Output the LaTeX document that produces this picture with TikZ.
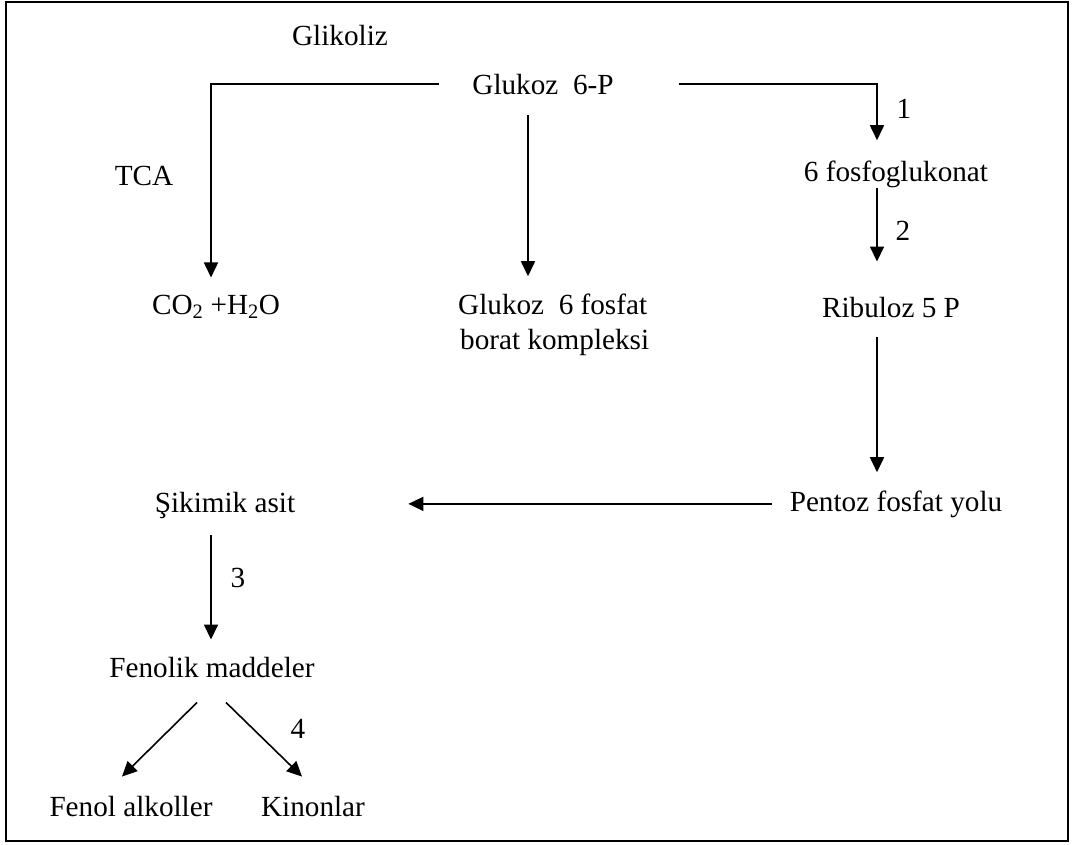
\documentclass[tikz,border=0pt]{standalone}
\usepackage{fontspec}
\setmainfont{Liberation Serif}
\usetikzlibrary{arrows.meta}
\begin{document}
\begin{tikzpicture}[x=1pt,y=-1pt,
  txt/.style={inner sep=0pt,anchor=base,font=\fontsize{29.2}{35}\selectfont},
  arr/.style={line width=1.6pt,-{Triangle[length=15pt,width=14pt]}}]
\useasboundingbox (0,0) rectangle (1074,844);
\draw[line width=2pt] (6,2) rectangle (1068,841);
% texts
\node[txt] (glik) at (340,45) {Glikoliz};
\node[txt] (g6p) at (543,94) {Glukoz\ \ 6-P};
\node[txt] (tca) at (144,185) {TCA};
\node[txt] (fos) at (896,181) {6 fosfoglukonat};
\node[txt] (co2) at (216,314) {CO\textsubscript{2} +H\textsubscript{2}O};
\node[txt,anchor=base west] (gfb1) at (458,314) {Glukoz\ \ 6 fosfat};
\node[txt,anchor=base west] (gfb2) at (460,349) {borat kompleksi};
\node[txt] (rib) at (891,317) {Ribuloz 5 P};
\node[txt] (sik) at (225,512) {Şikimik asit};
\node[txt] (pen) at (896,511) {Pentoz fosfat yolu};
\node[txt] (fen) at (212,677) {Fenolik maddeler};
\node[txt] (fa) at (131,816) {Fenol alkoller};
\node[txt] (kin) at (313,816) {Kinonlar};
% step numbers
\node[txt] (n1) at (904,118) {1};
\node[txt] (n2) at (903,240) {2};
\node[txt] (n3) at (238,587) {3};
\node[txt] (n4) at (298,738) {4};
% connectors
\draw[arr] ([xshift=-33pt]g6p.west) -| ([xshift=-5pt,yshift=17pt]co2.north);
\draw[arr] ([xshift=-15pt,yshift=-21pt]g6p.south) coordinate (ms) -- ([yshift=17pt]ms |- gfb1.north);
\draw[arr] ([xshift=65pt]g6p.east) -| ([xshift=-19pt,yshift=20pt]fos.north);
\draw[arr] ([xshift=-19pt]fos.south) coordinate (fs) -- ([yshift=35pt]fs |- rib.north);
\draw[arr] ([xshift=-19pt,yshift=-20pt]fos.south |- rib.south) coordinate (rs) -- ([yshift=18pt]rs |- pen.north);
\draw[arr] ([xshift=-18pt]pen.west) coordinate (ps) -- ([xshift=113pt]sik.east |- ps);
\draw[arr] ([xshift=-14pt,yshift=-17pt]sik.south) coordinate (ss) -- ([yshift=17pt]ss |- fen.north);
\draw[arr] ([xshift=-15pt,yshift=-25pt]fen.south) -- ([xshift=-9pt,yshift=19pt]fa.north);
\draw[arr] ([xshift=14pt,yshift=-25pt]fen.south) -- ([xshift=-11pt,yshift=19pt]kin.north);
\end{tikzpicture}
\end{document}
